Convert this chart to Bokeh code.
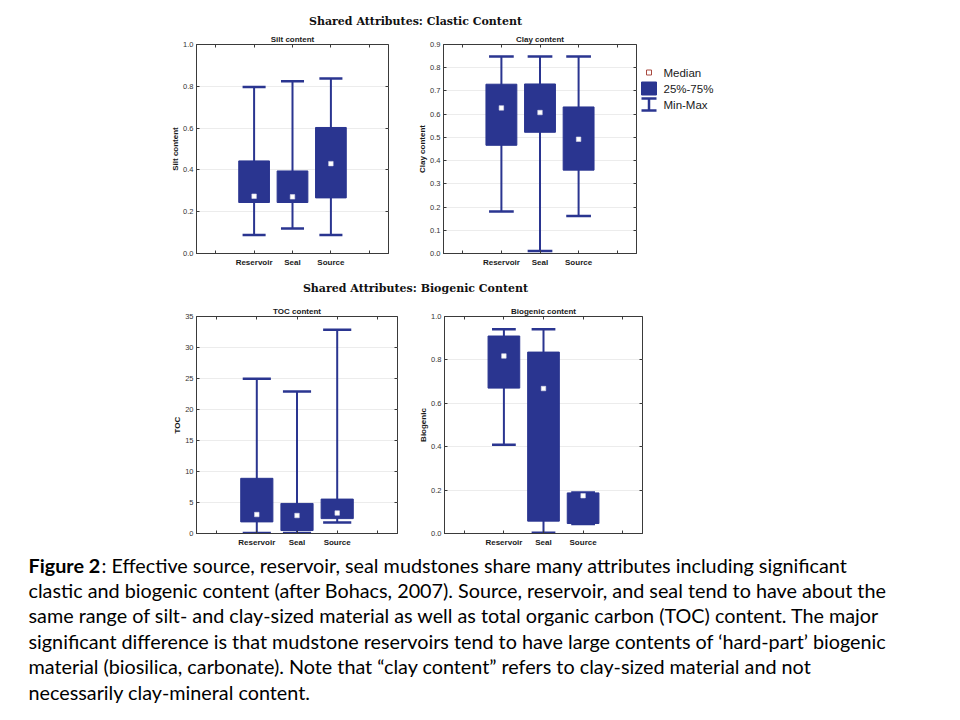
from bokeh.plotting import figure
from bokeh.models import (Range1d, FixedTicker, LinearAxis, Label, ColumnDataSource,
                          PrintfTickFormatter, CustomJSTickFormatter)
from bokeh.layouts import column, row
from bokeh.embed import file_html
from bokeh.resources import INLINE

# ---------------- data ----------------
categories = ["Reservoir", "Seal", "Source"]
cat_pos = [1, 2, 3]
edge_ticks = [0, 4]

silt_min = [0.088, 0.120, 0.088]
silt_q1 = [0.244, 0.244, 0.266]
silt_med = [0.274, 0.271, 0.430]
silt_q3 = [0.443, 0.395, 0.603]
silt_max = [0.797, 0.824, 0.837]

clay_min = [0.181, 0.011, 0.162]
clay_q1 = [0.466, 0.522, 0.359]
clay_med = [0.627, 0.607, 0.492]
clay_q3 = [0.729, 0.730, 0.631]
clay_max = [0.848, 0.848, 0.848]

toc_min = [0.10, 0.10, 1.77]
toc_q1 = [1.87, 0.48, 2.40]
toc_med = [3.06, 2.90, 3.30]
toc_q3 = [8.90, 4.85, 5.55]
toc_max = [24.95, 22.90, 32.85]

bio_min = [0.409, 0.003, 0.044]
bio_q1 = [0.670, 0.057, 0.046]
bio_med = [0.818, 0.668, 0.174]
bio_q3 = [0.910, 0.836, 0.187]
bio_max = [0.941, 0.941, 0.189]

silt_ticks = [0.0, 0.2, 0.4, 0.6, 0.8, 1.0]
clay_ticks = [0.0, 0.1, 0.2, 0.3, 0.4, 0.5, 0.6, 0.7, 0.8, 0.9]
toc_ticks = [0, 5, 10, 15, 20, 25, 30, 35]
bio_ticks = [0.0, 0.2, 0.4, 0.6, 0.8, 1.0]

legend_labels = ["Median", "25%-75%", "Min-Max"]

section_titles = ["Shared Attributes: Clastic Content", "Shared Attributes: Biogenic Content"]

caption_bold = "Figure 2"
caption_lines = [
    ": Effective  source, reservoir,  seal mudstones share many attributes including significant",
    "clastic and biogenic content (after Bohacs, 2007). Source, reservoir,  and seal tend to have about the",
    "same range of silt- and clay-sized material as well as total organic carbon (TOC) content. The major",
    "significant difference  is that mudstone reservoirs tend to have large contents of \u2018hard-part\u2019 biogenic",
    "material (biosilica, carbonate). Note that \u201cclay content\u201d refers to clay-sized material and not",
    "necessarily clay-mineral content.",
]

# ---------------- style ----------------
NAVY = "#2a3590"
AX_COL = "#3a3a3a"
SANS = "Liberation Sans"


def box_panel(title, ylabel, y_end, yticks, fmt, mins, q1, med, q3, maxs,
              frame_w, frame_h, b_left, b_right, b_top, b_bottom, cap_w):
    p = figure(frame_width=frame_w, frame_height=frame_h,
               x_range=Range1d(-0.5, 4.5), y_range=Range1d(0, y_end),
               output_backend="svg", toolbar_location=None,
               min_border_left=b_left, min_border_right=b_right,
               min_border_top=b_top, min_border_bottom=b_bottom,
               background_fill_color="white", border_fill_color="white",
               outline_line_color=AX_COL, outline_line_width=1, title=title)
    p.title.align = "center"
    p.title.text_font = SANS
    p.title.text_font_size = "8px"
    p.title.text_font_style = "bold"
    p.title.text_color = "#1a1a1a"
    p.title.standoff = 2

    src = ColumnDataSource(dict(x=cat_pos, lo=mins, q1=q1, med=med, q3=q3, hi=maxs))
    p.segment(x0="x", y0="lo", x1="x", y1="hi", source=src, line_color=NAVY, line_width=2)
    p.rect(x="x", y="lo", width=cap_w, height=2.5, height_units="screen", source=src,
           fill_color=NAVY, line_color=None)
    p.rect(x="x", y="hi", width=cap_w, height=2.5, height_units="screen", source=src,
           fill_color=NAVY, line_color=None)
    p.vbar(x="x", width=0.8, bottom="q1", top="q3", source=src,
           fill_color=NAVY, line_color=NAVY, line_width=1)
    p.scatter(x="x", y="med", source=src, marker="square", size=4.5,
              fill_color="white", line_color="#d8d8e8", line_width=0.6)

    # x axis (bottom)
    xa = p.xaxis[0]
    xa.ticker = FixedTicker(ticks=cat_pos, minor_ticks=edge_ticks)
    xa.major_label_overrides = {c: n for c, n in zip(cat_pos, categories)}
    xa.major_label_text_font = SANS
    xa.major_label_text_font_size = "8px"
    xa.major_label_text_font_style = "bold"
    xa.major_label_text_color = "#1a1a1a"
    xa.major_label_standoff = 4
    xa.major_tick_in = 3
    xa.major_tick_out = 0
    xa.minor_tick_in = 3
    xa.minor_tick_out = 0
    xa.axis_line_color = AX_COL
    xa.major_tick_line_color = AX_COL
    xa.minor_tick_line_color = AX_COL

    # y axis (left)
    ya = p.yaxis[0]
    ya.ticker = FixedTicker(ticks=yticks)
    ya.formatter = PrintfTickFormatter(format=fmt)
    ya.major_label_text_font = SANS
    ya.major_label_text_font_size = "7.5px"
    ya.major_label_text_color = "#333333"
    ya.major_label_standoff = 3
    ya.major_tick_in = 3
    ya.major_tick_out = 0
    ya.minor_tick_line_color = None
    ya.axis_line_color = AX_COL
    ya.major_tick_line_color = AX_COL
    ya.axis_label = ylabel
    ya.axis_label_text_font = SANS
    ya.axis_label_text_font_size = "8px"
    ya.axis_label_text_font_style = "bold"
    ya.axis_label_text_color = "#1a1a1a"
    ya.axis_label_standoff = 0

    blank = CustomJSTickFormatter(code="return ''")
    ra = LinearAxis(ticker=FixedTicker(ticks=yticks), formatter=blank,
                    major_tick_in=3, major_tick_out=0, minor_tick_line_color=None,
                    axis_line_color=None, major_tick_line_color=AX_COL,
                    major_label_standoff=0)
    p.add_layout(ra, "right")
    ta = LinearAxis(ticker=FixedTicker(ticks=cat_pos, minor_ticks=edge_ticks), formatter=blank,
                    major_tick_in=3, major_tick_out=0, minor_tick_in=3, minor_tick_out=0,
                    axis_line_color=None, major_tick_line_color=AX_COL,
                    minor_tick_line_color=AX_COL, major_label_standoff=0)
    p.add_layout(ta, "above")

    p.xgrid.grid_line_color = None
    p.ygrid.ticker = FixedTicker(ticks=yticks)
    p.ygrid.grid_line_color = "#ececec"
    p.ygrid.grid_line_width = 1
    return p


def text_fig(w, h):
    f = figure(frame_width=w, frame_height=h, x_range=Range1d(0, w), y_range=Range1d(h, 0),
               output_backend="svg", toolbar_location=None, min_border=0, title=None,
               x_axis_location=None, y_axis_location=None, outline_line_color=None,
               background_fill_color="white", border_fill_color="white")
    f.xgrid.visible = False
    f.ygrid.visible = False
    return f


# ---------------- section title 1 ----------------
t1 = text_fig(728, 30)
t1.add_layout(Label(x=415, y=21, text=section_titles[0], text_align="center",
                    text_baseline="middle", text_font="DejaVu Serif",
                    text_font_size="11px", text_font_style="bold", text_color="#111111"))

# ---------------- row 1 ----------------
FRAME_H1 = 209
p1 = box_panel("Silt content", "Silt content", 1.0, silt_ticks, "%.1f",
               silt_min, silt_q1, silt_med, silt_q3, silt_max,
               192, FRAME_H1, 196, 10, 14, 20, 0.6)
p2 = box_panel("Clay content", "Clay content", 0.9, clay_ticks, "%.1f",
               clay_min, clay_q1, clay_med, clay_q3, clay_max,
               193, FRAME_H1, 45, 4, 14, 20, 0.64)

# legend key (its frame is aligned with the clay panel's frame)
leg = text_fig(88, FRAME_H1)
row_y = [28 + 16 * i for i in range(len(legend_labels))]
sym_x = 8.5
leg.scatter(x=[sym_x], y=[row_y[0]], marker="square", size=5,
            fill_color="white", line_color="#a8493f", line_width=1)
leg.rect(x=[sym_x], y=[row_y[1]], width=15, height=13, fill_color=NAVY, line_color=NAVY)
leg.segment(x0=[sym_x], y0=[row_y[2] - 6], x1=[sym_x], y1=[row_y[2] + 6],
            line_color=NAVY, line_width=2.5)
leg.segment(x0=[sym_x - 7.5, sym_x - 7.5], y0=[row_y[2] - 6, row_y[2] + 6],
            x1=[sym_x + 7.5, sym_x + 7.5], y1=[row_y[2] - 6, row_y[2] + 6],
            line_color=NAVY, line_width=2.5)
for lab, yy in zip(legend_labels, row_y):
    leg.add_layout(Label(x=23, y=yy, text=lab, text_baseline="middle", text_font=SANS,
                         text_font_size="11.5px", text_color="#1a1a1a"))

# ---------------- section title 2 ----------------
t2 = text_fig(728, 30)
t2.add_layout(Label(x=415, y=15, text=section_titles[1], text_align="center",
                    text_baseline="middle", text_font="DejaVu Serif",
                    text_font_size="11px", text_font_style="bold", text_color="#111111"))

# ---------------- row 2 ----------------
p3 = box_panel("TOC content", "TOC", 35, toc_ticks, "%d",
               toc_min, toc_q1, toc_med, toc_q3, toc_max,
               201, 217, 196, 8, 12, 18, 0.7)
p4 = box_panel("Biogenic content", "Biogenic", 1.0, bio_ticks, "%.1f",
               bio_min, bio_q1, bio_med, bio_q3, bio_max,
               198, 217, 39, 6, 12, 18, 0.6)

# ---------------- caption ----------------
cap = text_fig(952, 158)
LINE_H = 25.4
CAP_Y0 = 13
cap.add_layout(Label(x=28, y=CAP_Y0, text=caption_bold, text_baseline="middle", text_font="Lato",
                     text_font_size="19.8px", text_font_style="bold", text_color="#000000"))
for i, line in enumerate(caption_lines):
    xx = 101 if i == 0 else 28
    cap.add_layout(Label(x=xx, y=CAP_Y0 + i * LINE_H, text=line, text_baseline="middle",
                         text_font="Lato", text_font_size="19.8px", text_color="#000000"))

layout = column(t1, row(p1, p2, leg), t2, row(p3, p4), cap)

open("out.html", "w").write(file_html(layout, INLINE))
